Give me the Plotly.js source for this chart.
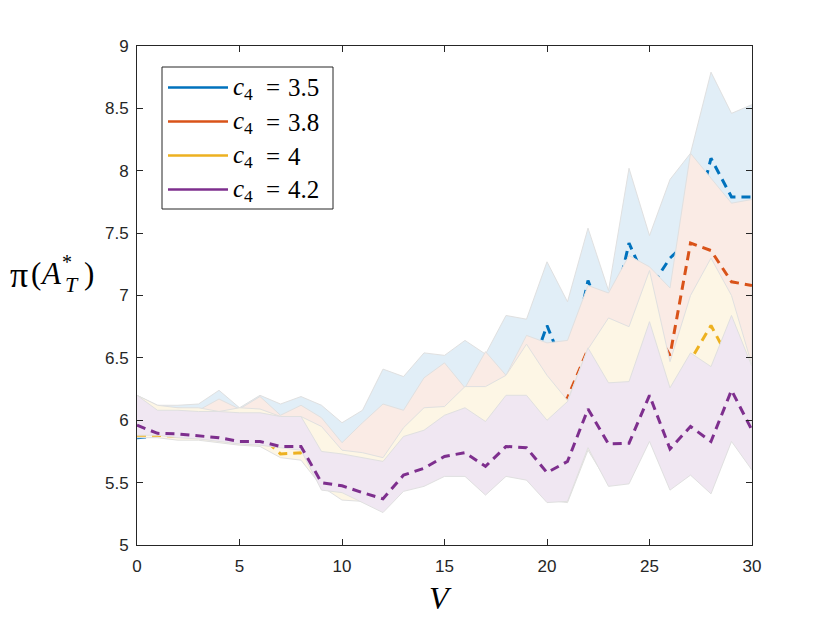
<!DOCTYPE html>
<html>
<head>
<meta charset="utf-8">
<script src="https://cdn.plot.ly/plotly-3.0.1.min.js"></script>
<style>html,body{margin:0;padding:0;background:#fff;}#chart{width:830px;height:623px;}</style>
</head>
<body>
<div id="chart"></div>
<script>
// ---- data ----
const V = [0,1,2,3,4,5,6,7,8,9,10,11,12,13,14,15,16,17,18,19,20,21,22,23,24,25,26,27,28,29,30];

const seriesNames = ['3.5', '3.8', '4', '4.2'];

// c4 = 3.5
const meanA  = [5.86,5.875,5.89,5.92,5.95,5.95,5.95,5.88,5.90,5.75,5.65,5.65,5.70,5.80,5.95,6.05,6.05,6.00,6.20,6.30,6.76,6.35,7.12,6.70,7.42,7.05,7.30,7.45,8.10,7.79,7.79];
const upperA = [6.20,6.12,6.12,6.13,6.24,6.10,6.20,6.13,6.19,6.12,5.98,6.08,6.41,6.35,6.54,6.52,6.64,6.53,6.84,6.81,7.27,6.95,7.54,7.04,8.02,7.48,7.93,8.14,8.79,8.46,8.53];
const lowerA = [5.89,5.89,5.87,5.87,5.85,5.83,5.82,5.73,5.71,5.50,5.40,5.38,5.31,5.48,5.52,5.60,5.60,5.45,5.60,5.57,5.39,5.37,5.79,5.52,5.54,5.88,5.49,5.61,5.46,5.88,5.65];

// c4 = 3.8
const meanB  = [5.89,5.90,5.92,5.93,5.94,5.93,5.92,5.85,5.88,5.70,5.62,5.62,5.65,5.75,5.90,6.00,5.95,5.95,6.05,6.25,6.10,6.18,6.57,6.55,6.60,6.80,6.52,7.42,7.36,7.11,7.08];
const upperB = [6.20,6.10,6.10,6.08,6.17,6.09,6.19,6.04,6.12,6.02,5.82,5.98,6.13,6.08,6.34,6.46,6.26,6.55,6.36,6.68,6.62,6.64,7.08,7.02,7.32,7.23,7.06,8.14,7.94,7.74,7.77];
const lowerB = [5.88,5.88,5.86,5.86,5.84,5.82,5.81,5.72,5.70,5.49,5.38,5.37,5.30,5.47,5.51,5.59,5.59,5.44,5.59,5.56,5.38,5.36,5.78,5.51,5.53,5.87,5.48,5.60,5.45,5.87,5.64];

// c4 = 4
const meanC  = [5.88,5.88,5.87,5.92,5.93,5.90,5.88,5.73,5.74,5.62,5.55,5.52,5.48,5.65,5.75,5.85,5.90,5.85,5.98,6.08,5.85,5.85,6.25,6.10,6.22,6.45,6.05,6.48,6.76,6.45,6.20];
const upperC = [6.20,6.12,6.10,6.10,6.07,6.10,6.09,6.03,6.03,5.95,5.76,5.74,5.70,5.94,6.10,6.11,6.27,6.27,6.36,6.61,6.36,6.16,6.57,6.82,6.75,7.20,6.47,7.00,7.30,7.00,6.44];
const lowerC = [5.86,5.86,5.84,5.84,5.82,5.80,5.79,5.70,5.68,5.47,5.36,5.35,5.28,5.45,5.49,5.57,5.57,5.42,5.57,5.54,5.36,5.34,5.76,5.49,5.51,5.85,5.46,5.58,5.43,5.85,5.62];

// c4 = 4.2
const meanD  = [5.96,5.895,5.89,5.876,5.86,5.83,5.83,5.79,5.79,5.50,5.475,5.42,5.37,5.56,5.615,5.71,5.74,5.63,5.79,5.78,5.58,5.67,6.09,5.81,5.815,6.20,5.77,5.95,5.83,6.24,5.92];
const upperD = [6.20,6.08,6.08,6.07,6.07,6.06,6.06,6.03,6.03,5.75,5.73,5.70,5.67,5.87,5.92,6.04,6.10,5.99,6.20,6.20,6.00,6.15,6.58,6.30,6.31,6.79,6.26,6.54,6.43,6.84,6.43];
const lowerD = [5.88,5.88,5.86,5.85,5.83,5.81,5.80,5.78,5.76,5.44,5.42,5.34,5.26,5.43,5.47,5.55,5.55,5.40,5.55,5.52,5.34,5.35,5.78,5.47,5.49,5.83,5.44,5.56,5.41,5.83,5.60];

const xTicks = [0,5,10,15,20,25,30];
const yTicks = [5,5.5,6,6.5,7,7.5,8,8.5,9];

// ---- styling ----
const lineColors = ['#0072BD', '#D95319', '#EDB120', '#7E2F8E'];
const fillColors = ['rgb(225,238,247)', 'rgb(250,235,229)', 'rgb(253,246,229)', 'rgb(240,231,242)'];
const means  = [meanA, meanB, meanC, meanD];
const uppers = [upperA, upperB, upperC, upperD];
const lowers = [lowerA, lowerB, lowerC, lowerD];

const traces = [];
for (let i = 0; i < 4; i++) {
  const xs = V.concat(V.slice().reverse());
  const ys = uppers[i].concat(lowers[i].slice().reverse());
  traces.push({
    type: 'scatter', mode: 'lines', x: xs, y: ys,
    fill: 'toself', fillcolor: fillColors[i],
    line: {color: 'rgb(224,224,224)', width: 1},
    hoverinfo: 'skip', showlegend: false
  });
  traces.push({
    type: 'scatter', mode: 'lines', x: V, y: means[i],
    line: {color: lineColors[i], width: 3, dash: '9px,6px'},
    showlegend: false
  });
}

// plot area in pixels
const L = 137, R = 752, T = 46, B = 545;
const px = v => (v - L) / (R - L);
const py = v => (B - v) / (B - T);

const serif = 'Liberation Serif, DejaVu Serif, serif';
const shapes = [];
const annotations = [];
function note(text, x, y, size, xanchor) {
  annotations.push({xref: 'paper', yref: 'paper', x: px(x), y: py(y),
    xanchor: xanchor || 'center', yanchor: 'middle', showarrow: false,
    text: text, font: {family: serif, size: size, color: '#000'}});
}

// legend box (drawn manually so legend lines are solid like the reference)
shapes.push({type: 'rect', xref: 'paper', yref: 'paper',
  x0: px(162), x1: px(333), y0: py(209), y1: py(67),
  line: {color: '#262626', width: 1}, fillcolor: 'white', layer: 'above'});
const legY = [87.5, 121.5, 155.5, 189.5];
for (let i = 0; i < 4; i++) {
  shapes.push({type: 'line', xref: 'paper', yref: 'paper',
    x0: px(168), x1: px(228), y0: py(legY[i]), y1: py(legY[i]),
    line: {color: lineColors[i], width: 2.5}, layer: 'above'});
  note('<i>c</i><sub>4</sub>', 231, legY[i] + 1, 25, 'left');
  note('=', 273, legY[i] + 0.5, 25, 'center');
  note(seriesNames[i], 286, legY[i] + 0.5, 25, 'left');
}

// y-axis title  π(A*_T), built from pieces
note('π', 19, 275, 36);
note('(', 36, 273, 31);
note('<i>A</i>', 51, 273, 31);
note('*', 67, 262, 20);
note('<i>T</i>', 72, 284, 22);
note(')', 89, 273, 31);

// x-axis title
note('<i>V</i>', 440, 598, 32);

const axisCommon = {
  ticks: 'inside', ticklen: 6, tickwidth: 1, tickcolor: '#262626',
  showline: true, linecolor: '#262626', linewidth: 1, mirror: 'ticks',
  showgrid: false, zeroline: false,
  tickfont: {family: 'Liberation Sans, Arial, sans-serif', size: 17, color: '#262626'}
};

const layout = {
  width: 830, height: 623,
  margin: {l: L, r: 830 - R, t: T, b: 623 - B, pad: 0},
  paper_bgcolor: 'white', plot_bgcolor: 'white',
  showlegend: false,
  xaxis: Object.assign({}, axisCommon, {range: [0, 30], tickvals: xTicks, ticklabelstandoff: 6}),
  yaxis: Object.assign({}, axisCommon, {range: [5, 9], tickvals: yTicks, ticklabelstandoff: 4}),
  shapes: shapes,
  annotations: annotations
};

Plotly.newPlot('chart', traces, layout, {staticPlot: true, displayModeBar: false});
</script>
</body>
</html>
